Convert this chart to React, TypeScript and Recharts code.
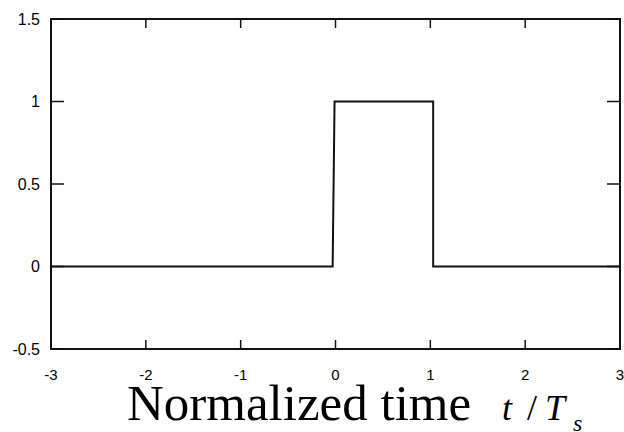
import { LineChart, Line, XAxis, YAxis, ReferenceArea } from 'recharts';

// rectangular pulse, normalized time t/Ts
const timeValues = [-3, -0.03, -0.01, 1.03, 1.03, 3];
const pulseValues = [0, 0, 1, 1, 0, 0];
const xTicks = [-3, -2, -1, 0, 1, 2, 3];
const yTicks = [-0.5, 0, 0.5, 1, 1.5];
const xDomain = [-3, 3];
const yDomain = [-0.5, 1.5];

const data = timeValues.map((t, i) => ({ t, v: pulseValues[i] }));

const ink = '#111';
const axisLine = { stroke: ink, strokeWidth: 2 };
const tickLine = { stroke: ink, strokeWidth: 1.5 };
const sans = "'Liberation Sans', Arial, sans-serif";
const serif = "'Liberation Serif', 'Times New Roman', serif";
const noLabel = () => '';

export default function App() {
  return (
    <div style={{ position: 'absolute', left: 0, top: 0, width: 624, height: 432, background: '#fff', overflow: 'visible' }}>
      <LineChart width={624} height={432} data={data} margin={{ top: 18, right: 3, left: 0, bottom: 0 }}>
        <XAxis
          xAxisId="bottom"
          dataKey="t"
          type="number"
          domain={xDomain}
          ticks={xTicks}
          interval={0}
          height={83}
          tickSize={-9}
          tickMargin={29}
          axisLine={axisLine}
          tickLine={tickLine}
          tick={{ fontSize: 15, fill: '#000', fontFamily: sans }}
        />
        <XAxis
          xAxisId="top"
          dataKey="t"
          type="number"
          orientation="top"
          domain={xDomain}
          ticks={xTicks}
          interval={0}
          height={1}
          tickSize={-9}
          axisLine={axisLine}
          tickLine={tickLine}
          tickFormatter={noLabel}
        />
        <YAxis
          yAxisId="left"
          type="number"
          domain={yDomain}
          ticks={yTicks}
          interval={0}
          width={51}
          tickSize={-13}
          tickMargin={24}
          axisLine={axisLine}
          tickLine={tickLine}
          tick={{ fontSize: 16, fill: '#000', fontFamily: sans }}
        />
        <YAxis
          yAxisId="right"
          type="number"
          orientation="right"
          domain={yDomain}
          ticks={yTicks}
          interval={0}
          width={1}
          tickSize={-13}
          axisLine={axisLine}
          tickLine={tickLine}
          tickFormatter={noLabel}
          allowDataOverflow
        />
        {/* plot frame */}
        <ReferenceArea
          xAxisId="bottom"
          yAxisId="left"
          x1={xDomain[0]}
          x2={xDomain[1]}
          y1={yDomain[0]}
          y2={yDomain[1]}
          fill="none"
          fillOpacity={0}
          stroke={ink}
          strokeWidth={2}
          strokeOpacity={1}
          ifOverflow="visible"
        />
        <Line
          xAxisId="bottom"
          yAxisId="left"
          type="linear"
          dataKey="v"
          stroke={ink}
          strokeWidth={2}
          dot={false}
          isAnimationActive={false}
        />
      </LineChart>
      <svg width={624} height={432} style={{ position: 'absolute', left: 0, top: 0, pointerEvents: 'none' }}>
        <text x={127} y={420} fontFamily={serif} fontSize={51} fill="#000">
          Normalized time
        </text>
        <text x={502} y={420} fontFamily={serif} fontSize={36} fontStyle="italic" fill="#000">
          t
        </text>
        <text x={527} y={420} fontFamily={serif} fontSize={36} fill="#000">
          /
        </text>
        <text x={545} y={420} fontFamily={serif} fontSize={36} fontStyle="italic" fill="#000">
          T
        </text>
        <text x={573} y={431} fontFamily={serif} fontSize={24} fontStyle="italic" fill="#000">
          s
        </text>
      </svg>
    </div>
  );
}
